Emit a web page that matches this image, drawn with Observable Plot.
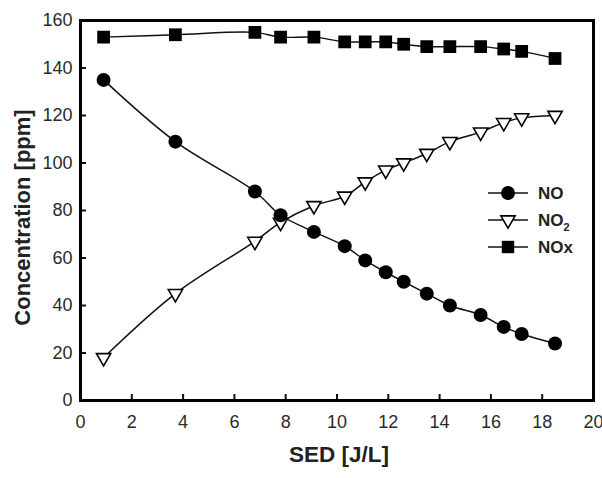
<!DOCTYPE html>
<html>
<head>
<meta charset="utf-8">
<script src="https://cdn.jsdelivr.net/npm/d3@7"></script>
<script src="https://cdn.jsdelivr.net/npm/@observablehq/plot@0.6"></script>
<style>
  html, body { margin: 0; padding: 0; background: #fff; }
  #chart { width: 602px; height: 478px; }
</style>
</head>
<body>
<div id="chart"></div>
<script>
// Specific energy density (J/L) and the measured concentrations (ppm)
const sed = [0.9, 3.7, 6.8, 7.8, 9.1, 10.3, 11.1, 11.9, 12.6, 13.5, 14.4, 15.6, 16.5, 17.2, 18.5];
const no  = [135, 109, 88, 78, 71, 65, 59, 54, 50, 45, 40, 36, 31, 28, 24];
const no2 = [18, 45, 67, 75, 82, 86, 92, 97, 100, 104, 109, 113, 117, 119, 120];
const nox = [153, 154, 155, 153, 153, 151, 151, 151, 150, 149, 149, 149, 148, 147, 144];

const xTicks = [0, 2, 4, 6, 8, 10, 12, 14, 16, 18, 20];
const yTicks = [0, 20, 40, 60, 80, 100, 120, 140, 160];
const xLabel = "SED [J/L]";
const yLabel = "Concentration [ppm]";

const toRows = (values, series) => sed.map((x, i) => ({ sed: x, value: values[i], series }));
const noRows = toRows(no, "NO");
const no2Rows = toRows(no2, "NO2");
const noxRows = toRows(nox, "NOx");

// Downward-pointing open triangle, centred on its centroid
const triangleDown = {
  draw(context, size) {
    const w = Math.sqrt(size) * 1.15;
    const h = w * 0.86;
    context.moveTo(-w / 2, -h / 3);
    context.lineTo(w / 2, -h / 3);
    context.lineTo(0, (2 * h) / 3);
    context.closePath();
  }
};

const font = "'Liberation Sans', Arial, Helvetica, sans-serif";

const chart = Plot.plot({
  width: 602,
  height: 478,
  marginTop: 20,
  marginRight: 9,
  marginBottom: 78,
  marginLeft: 80,
  style: { fontFamily: font, fontSize: "18px", color: "#2a2a2a", background: "#fff", overflow: "visible" },
  x: { domain: [0, 20] },
  y: { domain: [0, 160] },
  marks: [
    Plot.axisX({ ticks: xTicks, tickSize: -6, tickPadding: 21, tickFormat: d => String(d), label: null, fontSize: 18, stroke: "#111", strokeWidth: 2 }),
    Plot.axisY({ ticks: yTicks, tickSize: -6, tickPadding: 14, tickFormat: d => String(d), label: null, fontSize: 18, stroke: "#111", strokeWidth: 2 }),
    Plot.line(noxRows, { x: "sed", y: "value", curve: "catmull-rom", stroke: "#111", strokeWidth: 1.5 }),
    Plot.line(no2Rows, { x: "sed", y: "value", curve: "catmull-rom", stroke: "#111", strokeWidth: 1.5 }),
    Plot.line(noRows, { x: "sed", y: "value", curve: "catmull-rom", stroke: "#111", strokeWidth: 1.5 }),
    Plot.dot(noxRows, { x: "sed", y: "value", symbol: "square", r: 7.2, fill: "#000" }),
    Plot.dot(no2Rows, { x: "sed", y: "value", symbol: triangleDown, r: 7, fill: "#fff", stroke: "#000", strokeWidth: 1.6 }),
    Plot.dot(noRows, { x: "sed", y: "value", symbol: "circle", r: 7, fill: "#000" }),
    Plot.frame({ stroke: "#000", strokeWidth: 3 }),
    Plot.text([yLabel], { frameAnchor: "left", textAnchor: "middle", rotate: -90, dx: -58, dy: 7, fontSize: 22, fontWeight: "bold", fill: "#222" }),
    Plot.text([xLabel], { frameAnchor: "bottom", textAnchor: "middle", dy: 61, dx: 2, fontSize: 22.5, fontWeight: "bold", fill: "#222" })
  ]
});

// Legend inside the plot, to the right
const legendItems = [
  { name: "NO", sub: null, kind: "circle" },
  { name: "NO", sub: "2", kind: "triangle" },
  { name: "NOx", sub: null, kind: "square" }
];
const svg = d3.select(chart);
const legend = svg.append("g").attr("transform", "translate(488,193)")
  .attr("font-family", font).attr("text-anchor", "start");
legendItems.forEach((item, i) => {
  const g = legend.append("g").attr("transform", `translate(0,${i * 27})`);
  g.append("line").attr("x1", 0).attr("x2", 40).attr("y1", 0).attr("y2", 0).attr("stroke", "#111").attr("stroke-width", 1.5);
  if (item.kind === "circle") {
    g.append("circle").attr("cx", 20).attr("cy", 0).attr("r", 7).attr("fill", "#000");
  } else if (item.kind === "square") {
    g.append("path").attr("transform", "translate(20,0)").attr("d", d3.symbol(d3.symbolSquare, Math.PI * 49)()).attr("fill", "#000");
  } else {
    g.append("path").attr("transform", "translate(20,0)").attr("d", d3.symbol(triangleDown, Math.PI * 49)())
      .attr("fill", "#fff").attr("stroke", "#000").attr("stroke-width", 1.6);
  }
  const t = g.append("text").attr("x", 50).attr("y", 0).attr("dy", "0.36em")
    .attr("font-size", 17).attr("font-weight", "bold").attr("fill", "#222").text(item.name);
  if (item.sub) t.append("tspan").attr("font-size", 11).attr("dy", "0.45em").text(item.sub);
});

document.getElementById("chart").appendChild(chart);
</script>
</body>
</html>
